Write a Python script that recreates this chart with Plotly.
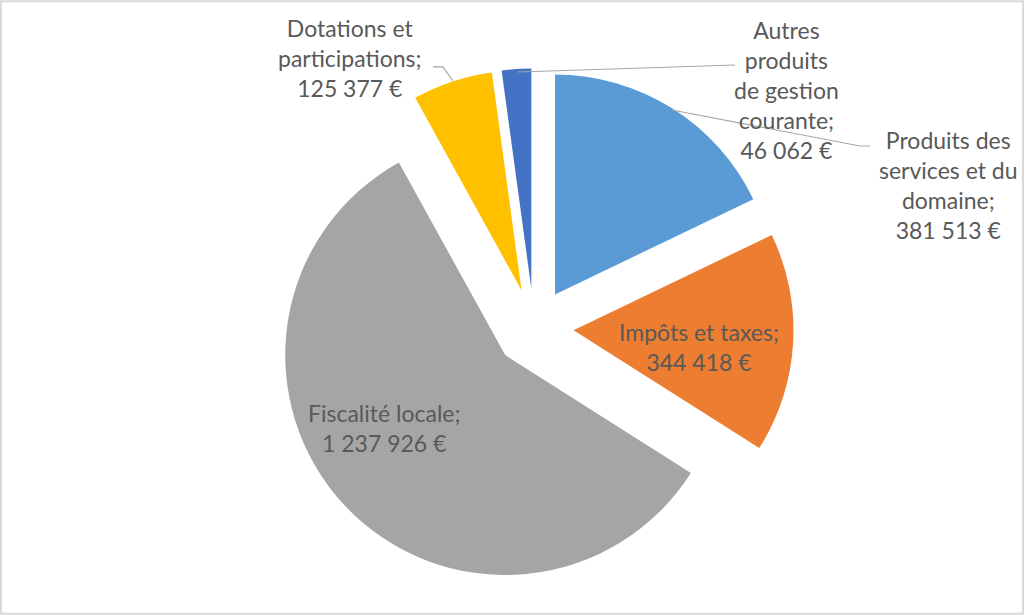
"""Exploded pie: recettes de fonctionnement."""

import plotly.graph_objects as go

W, H = 1024, 615

categories = [
    "Produits des services et du domaine",
    "Impôts et taxes",
    "Fiscalité locale",
    "Dotations et participations",
    "Autres produits de gestion courante",
]
values = [381513, 344418, 1237926, 125377, 46062]
colors = ["#5B9BD5", "#ED7D31", "#A5A5A5", "#FFC000", "#4472C4"]

# label text as Excel wrapped it
label_lines = [
    ["Produits des", "services et du", "domaine;"],
    ["Impôts et taxes;"],
    ["Fiscalité locale;"],
    ["Dotations et", "participations;"],
    ["Autres", "produits", "de gestion", "courante;"],
]
# label centres in pixels (x, y from top)
label_pos = [(948, 185), (699, 347), (384, 428), (350, 58), (786, 90)]

# leader lines, pixel points
leaders = [
    [(672, 110), (860, 146), (870, 146)],
    None,
    None,
    [(433, 67), (443, 67), (453, 81)],
    [(518, 72), (735, 65)],
]


def fmt_eur(v):
    return f"{v:,}".replace(",", " ") + " €"


def px(x, y):
    return x / W, 1 - y / H


fig = go.Figure(
    go.Pie(
        labels=categories,
        values=values,
        marker=dict(colors=colors, line=dict(width=0)),
        pull=[0.18] * len(values),
        sort=False,
        direction="clockwise",
        rotation=0,
        textinfo="none",
        hoverinfo="label+value",
        showlegend=False,
        domain=dict(x=[0.2, 0.843], y=[0.0447, 0.8887]),
    )
)

for lines, v, (lx, ly) in zip(label_lines, values, label_pos):
    ax, ay = px(lx, ly)
    fig.add_annotation(
        x=ax, y=ay, xref="paper", yref="paper",
        text="<br>".join(lines + [fmt_eur(v)]),
        showarrow=False, align="center",
        xanchor="center", yanchor="middle",
        font=dict(family="Lato, Calibri, sans-serif", size=23, color="#595959"),
    )

for pts in leaders:
    if not pts:
        continue
    path = ""
    for i, (x, y) in enumerate(pts):
        X, Y = px(x, y)
        path += ("M" if i == 0 else " L") + f"{X:.4f},{Y:.4f}"
    fig.add_shape(type="path", path=path, xref="paper", yref="paper",
                  line=dict(color="#A6A6A6", width=1.2))

# thin frame around the chart area
fig.add_shape(type="rect", xref="paper", yref="paper", x0=0.001, y0=0.002, x1=0.999, y1=0.998,
              line=dict(color="#D9D9D9", width=2))

fig.update_layout(
    width=W,
    height=H,
    margin=dict(l=0, r=0, t=0, b=0),
    paper_bgcolor="white",
    plot_bgcolor="white",
)

# drop the default body margin so the 1024x615 figure fills the window
fig.write_html(
    "out.html",
    config={"displayModeBar": False},
    post_script="document.body.style.margin='0';",
)
